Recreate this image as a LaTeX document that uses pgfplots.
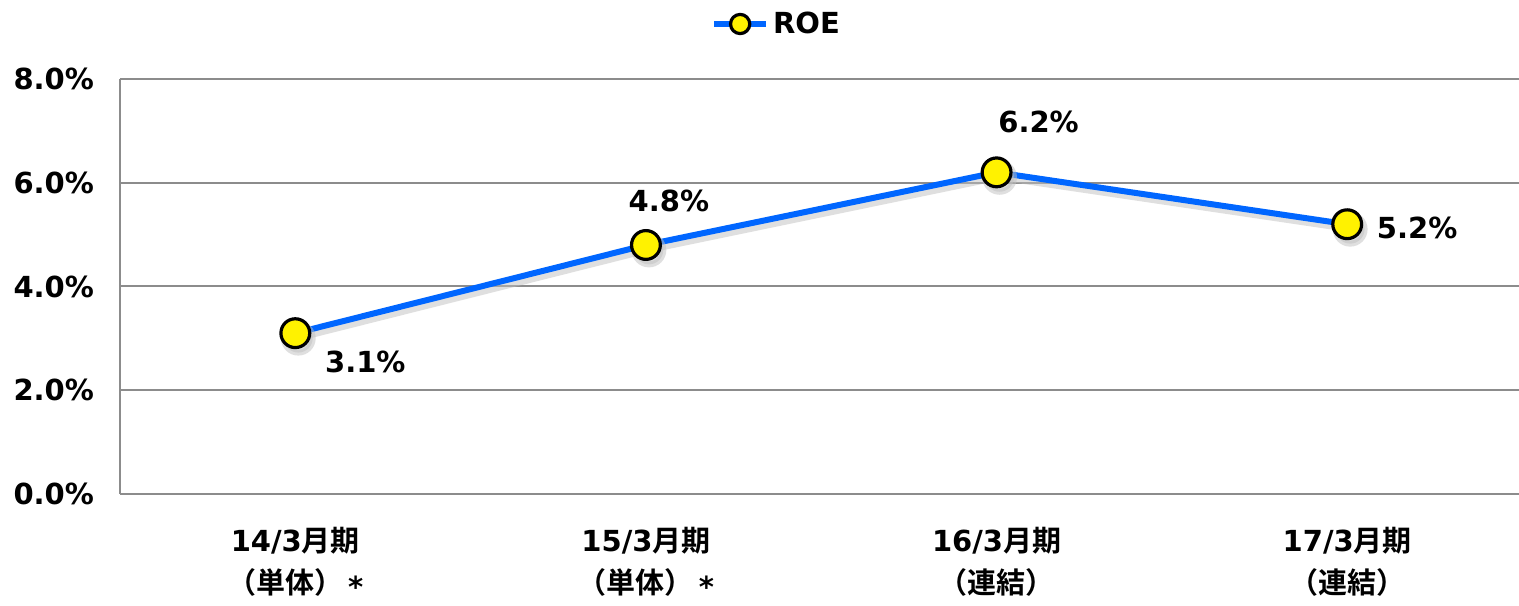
\documentclass[border=0pt]{standalone}
\usepackage{fontspec}
\setmainfont{DejaVu Sans}
\newfontfamily\cjk{Noto Sans CJK JP}[BoldFont={Noto Sans CJK JP Bold}]
\usepackage{pgfplots}
\pgfplotsset{compat=1.18}
\definecolor{roeblue}{RGB}{0,102,255}
\definecolor{gridgray}{RGB}{140,140,140}
\newcommand{\lbl}{\bfseries\fontsize{14.5}{17}\selectfont}
\newcommand{\myast}{\,\raisebox{-0.15em}{*}}
\begin{document}
\begin{tikzpicture}
\begin{axis}[
  scale only axis,
  width=699.5pt, height=207.5pt,
  xmin=-0.5, xmax=3.49,
  ymin=0, ymax=8,
  axis x line=bottom, axis y line=left,
  axis line style={gridgray, line width=1pt, -},
  xtick={0,1,2,3},
  xticklabels={{14/3{\cjk\bfseries 月期}\\{\cjk\bfseries （単体）}\myast},
               {15/3{\cjk\bfseries 月期}\\{\cjk\bfseries （単体）}\myast},
               {16/3{\cjk\bfseries 月期}\\{\cjk\bfseries （連結）}},
               {17/3{\cjk\bfseries 月期}\\{\cjk\bfseries （連結）}}},
  xticklabel style={align=center, font=\bfseries\fontsize{14.5}{21}\selectfont, yshift=-13pt},
  ytick={0,2,4,6,8},
  yticklabels={0.0\%,2.0\%,4.0\%,6.0\%,8.0\%},
  yticklabel style={font=\lbl, xshift=-9.5pt},
  major tick length=0pt,
  ymajorgrids,
  grid style={gridgray, line width=1pt},
  legend style={at={(axis description cs:0.47,1.1325)}, anchor=center, draw=none, fill=none,
    font=\lbl, inner sep=1pt},
  legend image code/.code={
    \draw[#1, mark=none] (0pt,0pt) -- (26pt,0pt);
    \draw[#1, only marks, mark size=4.8pt] plot coordinates {(13pt,0pt)};
  },
  clip=false,
]
\addplot[black!25, opacity=0.5, line width=3pt, xshift=1.5pt, yshift=-2.5pt,
  mark=*, mark size=7.2pt, mark options={fill=black!25, draw=none}, forget plot]
  coordinates {(0,3.1) (1,4.8) (2,6.2) (3,5.2)};
\addplot[roeblue, line width=3pt, mark=*, mark size=7.2pt,
  mark options={fill=yellow, draw=black, line width=1.6pt}]
  coordinates {(0,3.1) (1,4.8) (2,6.2) (3,5.2)};
\addlegendentry{ROE}
\node[font=\lbl] at (axis cs:0,3.1) [xshift=35pt, yshift=-14.5pt] {3.1\%};
\node[font=\lbl] at (axis cs:1,4.8) [xshift=11.5pt, yshift=22pt] {4.8\%};
\node[font=\lbl] at (axis cs:2,6.2) [xshift=21pt, yshift=25pt] {6.2\%};
\node[font=\lbl] at (axis cs:3,5.2) [xshift=35pt, yshift=-2pt] {5.2\%};
\coordinate (bl) at (rel axis cs:0,0);
\coordinate (tr) at (rel axis cs:1,1);
\end{axis}
\pgfresetboundingbox
\path ([xshift=-60pt,yshift=-56pt]bl) rectangle ([yshift=39.5pt]tr);
\end{tikzpicture}
\end{document}
